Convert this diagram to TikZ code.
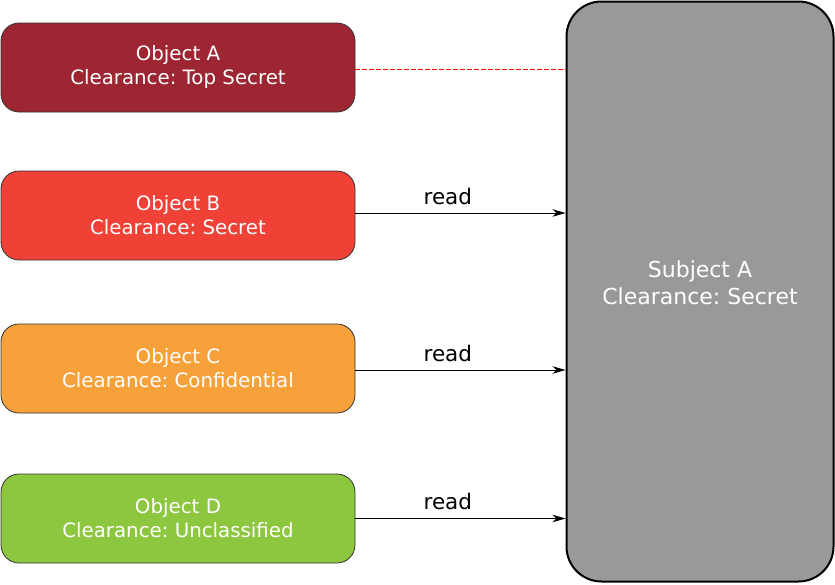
\documentclass[tikz,border=0pt]{standalone}
\usepackage{fontspec}
\setmainfont{DejaVu Sans}
\frenchspacing
\usetikzlibrary{arrows.meta}
\definecolor{topsecret}{HTML}{9E2532}
\definecolor{secret}{HTML}{EF4136}
\definecolor{confidential}{HTML}{F7A13A}
\definecolor{unclassified}{HTML}{8DC63F}
\definecolor{subjectgrey}{HTML}{999999}
\definecolor{deniedred}{HTML}{FF0000}
\begin{document}
\begin{tikzpicture}[x=1pt,y=-1pt,
  objbox/.style={draw=black!80, line width=0.8pt, rounded corners=18pt,
    minimum width=354pt, minimum height=89pt, inner sep=0pt,
    text=white, align=center, font=\fontsize{19.8}{24}\selectfont},
  subjbox/.style={draw=black, fill=subjectgrey, line width=2pt, rounded corners=35pt,
    minimum width=267pt, minimum height=580pt, inner sep=0pt},
  subjtext/.style={text=white, align=center, font=\fontsize{22}{27}\selectfont},
  readarrow/.style={-{Stealth[length=13pt,width=7.5pt,inset=4pt]}, line width=0.8pt},
  readlabel/.style={font=\fontsize{21.5}{25}\selectfont, text=black, above, inner sep=0pt,
    yshift=8pt, pos=0.44},
  noaccess/.style={draw=deniedred, dash pattern=on 5pt off 2pt, line width=1.2pt}]
\useasboundingbox (0,0) rectangle (835,584);

\node[objbox, fill=topsecret]    (A) at (178,67.5)  {Object A\\Clearance: Top Secret};
\node[objbox, fill=secret]       (B) at (178,215.5) {Object B\\Clearance: Secret};
\node[objbox, fill=confidential] (C) at (178,368.5) {Object C\\Clearance: Confidential};
\node[objbox, fill=unclassified] (D) at (178,518.5) {Object D\\Clearance: Unclassified};

\node[subjbox] (S) at (700,291.5) {};
\node[subjtext] (Slabel) at (700,283) {Subject A\\Clearance: Secret};

% no read access from above the subject's clearance
\draw[noaccess] ([yshift=-2pt]A.east) -- ([yshift=-2pt]A.east -| S.west);

% permitted reads
\draw[readarrow] ([yshift=2.5pt]B.east) -- node[readlabel] {read} ([yshift=2.5pt]B.east -| S.west);
\draw[readarrow] ([yshift=-1.5pt]C.east) -- node[readlabel] {read} ([yshift=-1.5pt]C.east -| S.west);
\draw[readarrow] (D.east) -- node[readlabel] {read} (D.east -| S.west);
\end{tikzpicture}
\end{document}
